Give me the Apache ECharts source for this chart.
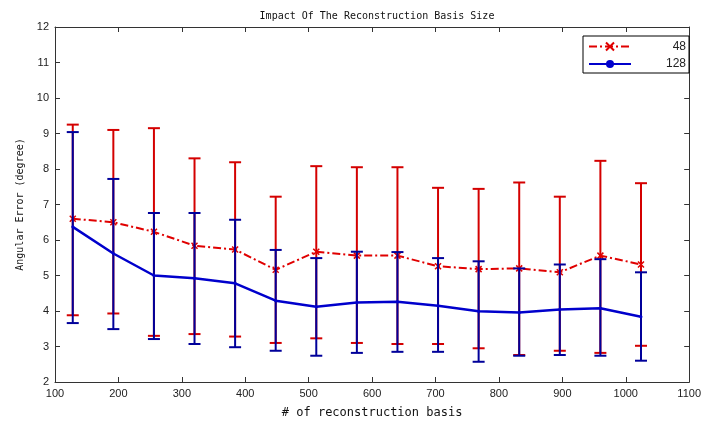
<!DOCTYPE html>
<html>
<head>
<meta charset="utf-8">
<script src="https://cdn.jsdelivr.net/npm/echarts@6/dist/echarts.min.js"></script>
<style>html,body{margin:0;padding:0;background:#fff;}#c{width:704px;height:424px;}</style>
</head>
<body>
<div id="c"></div>
<script>
var basisSizes = [128,192,256,320,384,448,512,576,640,704,768,832,896,960,1024];
var mean48 = [6.60,6.50,6.23,5.84,5.73,5.16,5.67,5.56,5.56,5.26,5.18,5.20,5.09,5.56,5.31];
var high48 = [9.25,9.10,9.15,8.30,8.19,7.22,8.08,8.05,8.05,7.47,7.44,7.62,7.22,8.23,7.60];
var low48  = [3.88,3.93,3.30,3.35,3.28,3.10,3.23,3.10,3.07,3.07,2.95,2.76,2.88,2.82,3.02];
var mean128 = [6.37,5.62,5.00,4.92,4.78,4.29,4.12,4.24,4.26,4.15,3.99,3.96,4.04,4.08,3.84];
var high128 = [9.04,7.72,6.76,6.76,6.57,5.72,5.49,5.67,5.66,5.49,5.40,5.20,5.31,5.46,5.09];
var low128  = [3.66,3.49,3.21,3.07,2.98,2.88,2.74,2.82,2.85,2.85,2.57,2.74,2.76,2.74,2.60];
var xTicks = [100,200,300,400,500,600,700,800,900,1000,1100];
var yTicks = [2,3,4,5,6,7,8,9,10,11,12];
var seriesNames = ['48','128'];

var RED = '#e00000', BLUE = '#0000cc';
var RED_BAR = '#d40000', BLUE_BAR = '#00009a';

function zip(a, b) { return a.map(function (v, i) { return [basisSizes[i], v, b ? b[i] : null]; }); }

function errRenderer(color) {
  return function (params, api) {
    var x = api.value(0), lo = api.value(1), hi = api.value(2);
    var pt = api.coord([x, hi]), pb = api.coord([x, lo]);
    var w = 6;
    var st = { stroke: color, lineWidth: 2 };
    return { type: 'group', children: [
      { type: 'line', shape: { x1: pt[0], y1: pt[1], x2: pb[0], y2: pb[1] }, style: st },
      { type: 'line', shape: { x1: pt[0] - w, y1: pt[1], x2: pt[0] + w, y2: pt[1] }, style: st },
      { type: 'line', shape: { x1: pb[0] - w, y1: pb[1], x2: pb[0] + w, y2: pb[1] }, style: st }
    ]};
  };
}

var axisCommon = {
  axisLine: { show: true, onZero: false, lineStyle: { color: '#333', width: 1 } },
  axisTick: { show: true, inside: true, length: 5, lineStyle: { color: '#333' } },
  splitLine: { show: false }
};
function mk(base, extra) { var o = {}; for (var k in base) o[k] = base[k]; for (var k2 in extra) o[k2] = extra[k2]; return o; }

var chart = echarts.init(document.getElementById('c'), null, { renderer: 'canvas' });
chart.setOption({
  animation: false,
  backgroundColor: '#fff',
  title: {
    text: 'Impact Of The Reconstruction Basis Size',
    left: 372, top: 6, textAlign: 'center',
    textStyle: { fontFamily: 'DejaVu Sans Mono', fontSize: 10, fontWeight: 'normal', color: '#111' }
  },
  grid: { left: 55, right: 14, top: 27, bottom: 41 },
  legend: {
    data: seriesNames,
    orient: 'vertical',
    left: 583, top: 36,
    padding: [4, 3, 3, 5],
    itemGap: 5,
    itemWidth: 42, itemHeight: 10,
    backgroundColor: '#fff',
    borderColor: '#000', borderWidth: 1, borderRadius: 0,
    formatter: function (name) { return '{t|' + name + '}'; },
    textStyle: {
      fontFamily: 'Liberation Sans', fontSize: 12, color: '#222',
      rich: { t: { width: 50, align: 'right', fontFamily: 'Liberation Sans', fontSize: 12, color: '#222' } }
    }
  },
  xAxis: [
    mk(axisCommon, {
      type: 'value', min: 100, max: 1100, interval: 100, position: 'bottom',
      name: '# of reconstruction basis', nameLocation: 'middle', nameGap: 25,
      nameTextStyle: { fontFamily: 'DejaVu Sans Mono', fontSize: 12, color: '#111' },
      axisLabel: { color: '#222', fontSize: 11, fontFamily: 'Liberation Sans', margin: 6,
        formatter: function (v) { return xTicks.indexOf(v) >= 0 ? String(v) : ''; } }
    }),
    mk(axisCommon, { type: 'value', min: 100, max: 1100, interval: 100, position: 'top', axisLabel: { show: false } })
  ],
  yAxis: [
    mk(axisCommon, {
      type: 'value', min: 2, max: 12, interval: 1, position: 'left',
      name: 'Angular Error (degree)', nameLocation: 'middle', nameGap: 29,
      nameTextStyle: { fontFamily: 'DejaVu Sans Mono', fontSize: 10, color: '#111' },
      axisLabel: { color: '#222', fontSize: 11, fontFamily: 'Liberation Sans', margin: 6,
        formatter: function (v) { return yTicks.indexOf(v) >= 0 ? String(v) : ''; } }
    }),
    mk(axisCommon, { type: 'value', min: 2, max: 12, interval: 1, position: 'right', axisLabel: { show: false } })
  ],
  series: [
    { type: 'custom', name: 'err48', renderItem: errRenderer(RED_BAR), data: zip(low48, high48), z: 2, silent: true },
    { type: 'line', name: '48', data: zip(mean48), z: 3,
      lineStyle: { color: RED, width: 2, type: [8, 3, 2, 3] },
      itemStyle: { color: 'none', borderColor: RED, borderWidth: 1.5 },
      symbol: 'path://M0,0L10,10M10,0L0,10', symbolSize: 6, showSymbol: true },
    { type: 'custom', name: 'err128', renderItem: errRenderer(BLUE_BAR), data: zip(low128, high128), z: 4, silent: true },
    { type: 'line', name: '128', data: zip(mean128), z: 5,
      lineStyle: { color: BLUE, width: 2.5 },
      itemStyle: { color: BLUE },
      symbol: 'circle', symbolSize: 3, showSymbol: true }
  ]
});
</script>
</body>
</html>
